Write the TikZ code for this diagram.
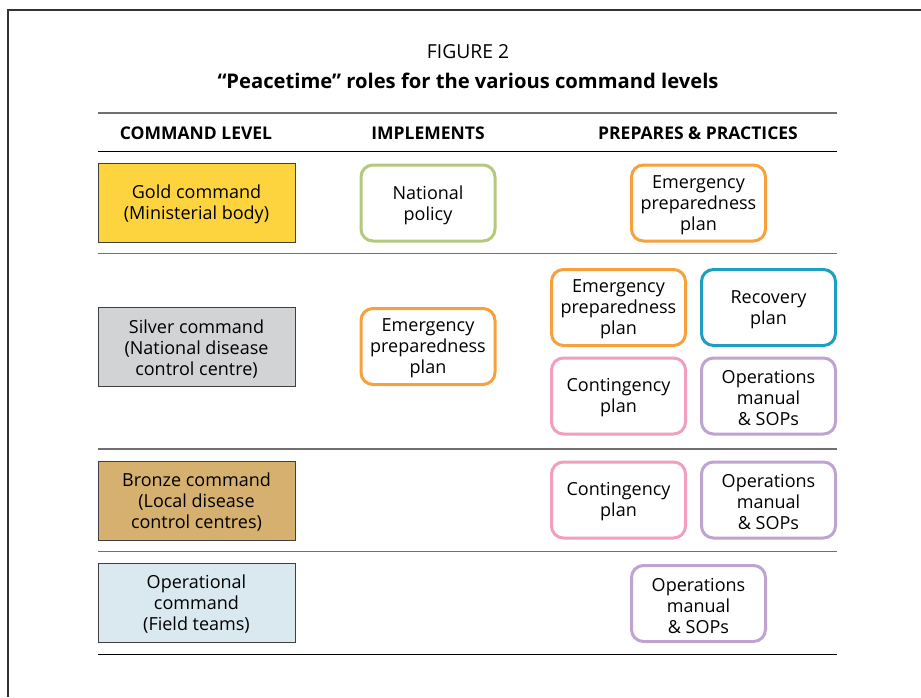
\documentclass[tikz,border=0pt]{standalone}
\usepackage{fontspec}
\setmainfont{Open Sans}
\definecolor{goldf}{HTML}{FDD43E}
\definecolor{silverf}{HTML}{D1D3D4}
\definecolor{bronzef}{HTML}{D5B06E}
\definecolor{opf}{HTML}{DAE9F0}
\definecolor{cgreen}{HTML}{B5C97C}
\definecolor{corange}{HTML}{F7A13C}
\definecolor{cteal}{HTML}{1E9EC0}
\definecolor{cpink}{HTML}{F29EBF}
\definecolor{cpurple}{HTML}{C0A4D0}
\definecolor{rulegray}{HTML}{707070}
\tikzset{
  x=1pt, y=-1pt,
  txt/.style={font=\fontsize{18}{21}\selectfont, align=center, text=black, inner sep=0pt},
  cmdbox/.style={draw=black!75, line width=0.9pt, minimum width=197pt, minimum height=79pt, inner sep=0pt},
  rbox/.style={draw, line width=3pt, rounded corners=12pt, minimum width=134pt, minimum height=76pt, inner sep=0pt},
  hdr/.style={font=\bfseries\fontsize{17.5}{20}\selectfont},
  grule/.style={draw=rulegray, line width=1.5pt},
  brule/.style={draw=black, line width=1pt}
}
\newcommand\boxwithtext[4]{%
  \node[#2] (#1) at #3 {};
  \node[txt] (#1t) at ([yshift=-2pt]#1.center) {#4};}
\begin{document}
\begin{tikzpicture}
\useasboundingbox (0,0) rectangle (921,697);
\fill[white] (0,0) rectangle (921,697);
% frame
\draw[black!80, line width=1.2pt] (8,697) -- (8,10) -- (921,10);
% titles
\node[font=\fontsize{19.3}{22}\selectfont] (fig) at (468,52) {FIGURE 2};
\node[font=\bfseries\fontsize{20.2}{23}\selectfont] (title) at (468,81) {“Peacetime” roles for the various command levels};
% rules
\draw[grule] (98,113) -- (837,113);
\draw[brule] (98,151) -- (837,151);
\draw[grule] (98,253.5) -- (837,253.5);
\draw[grule] (98,449) -- (837,449);
\draw[grule] (98,551.5) -- (837,551.5);
\draw[brule] (98,654.5) -- (837,654.5);
% headers
\node[hdr] (h1) at (196,133) {COMMAND LEVEL};
\node[hdr] (h2) at (428,133) {IMPLEMENTS};
\node[hdr] (h3) at (698,133) {PREPARES \& PRACTICES};
% command level
\boxwithtext{gold}{cmdbox, fill=goldf}{(196.5,202.5)}{Gold command\\(Ministerial body)}
\boxwithtext{silver}{cmdbox, fill=silverf}{(196.5,347)}{Silver command\\(National disease\\control centre)}
\boxwithtext{bronze}{cmdbox, fill=bronzef}{(196.5,500.5)}{Bronze command\\(Local disease\\control centres)}
\boxwithtext{oper}{cmdbox, fill=opf}{(196.5,602.5)}{Operational\\command\\(Field teams)}
% implements
\boxwithtext{natpol}{rbox, draw=cgreen}{(428,203)}{National\\policy}
\boxwithtext{epp2}{rbox, draw=corange}{(428,346.5)}{Emergency\\preparedness\\plan}
% prepares
\boxwithtext{epp1}{rbox, draw=corange}{(698.5,203)}{Emergency\\preparedness\\plan}
\boxwithtext{epp3}{rbox, draw=corange}{(618.5,307.5)}{Emergency\\preparedness\\plan}
\boxwithtext{rec}{rbox, draw=cteal}{(768.5,307.5)}{Recovery\\plan}
\boxwithtext{cont1}{rbox, draw=cpink}{(618.5,396)}{Contingency\\plan}
\boxwithtext{ops1}{rbox, draw=cpurple}{(768.5,396)}{Operations\\manual\\\& SOPs}
\boxwithtext{cont2}{rbox, draw=cpink}{(618.5,500)}{Contingency\\plan}
\boxwithtext{ops2}{rbox, draw=cpurple}{(768.5,500)}{Operations\\manual\\\& SOPs}
\boxwithtext{ops3}{rbox, draw=cpurple}{(698.5,603.5)}{Operations\\manual\\\& SOPs}
\end{tikzpicture}
\end{document}
